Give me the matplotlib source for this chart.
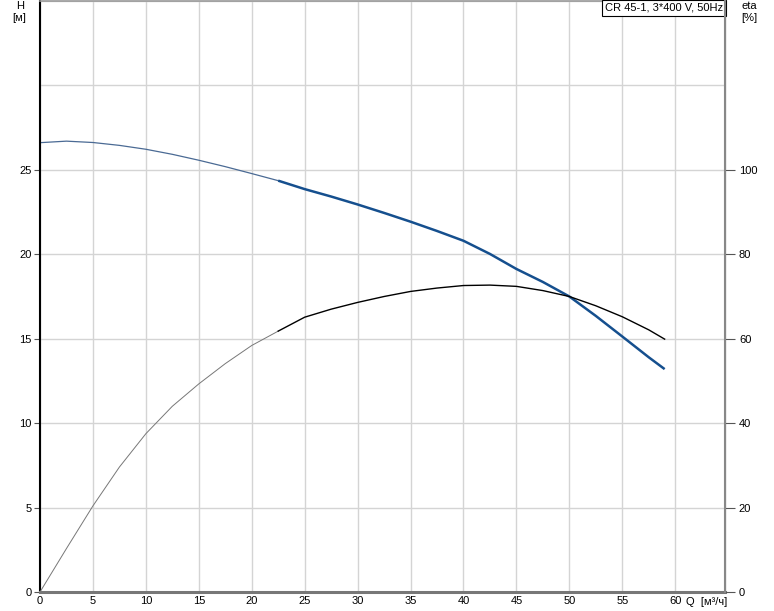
import numpy as np
import matplotlib.pyplot as plt

# values
q = [0, 2.5, 5, 7.5, 10, 12.5, 15, 17.5, 20, 22.5, 25, 27.5, 30, 32.5, 35,
     37.5, 40, 42.5, 45, 47.5, 50, 52.5, 55, 57.5, 59]
head = [26.61, 26.70, 26.62, 26.45, 26.22, 25.92, 25.57, 25.19, 24.78, 24.36,
        23.86, 23.42, 22.95, 22.45, 21.93, 21.38, 20.80, 20.02, 19.13, 18.36,
        17.50, 16.35, 15.13, 13.90, 13.20]
eta = [0, 10.3, 20.4, 29.6, 37.5, 44.0, 49.3, 54.1, 58.4, 61.8, 65.1, 67.0,
       68.6, 70.0, 71.2, 72.0, 72.6, 72.7, 72.4, 71.4, 70.0, 67.8, 65.2, 62.1, 59.9]
q_thick = 22.5  # start of the duty range

x_ticks = [0, 5, 10, 15, 20, 25, 30, 35, 40, 45, 50, 55, 60]
h_ticks = [0, 5, 10, 15, 20, 25]
eta_ticks = [0, 20, 40, 60, 80, 100]
title = "CR 45-1, 3*400 V, 50Hz"

plt.rcParams['font.family'] = ['Liberation Sans', 'DejaVu Sans']
plt.rcParams['font.size'] = 8

fig = plt.figure(figsize=(7.74, 6.11), dpi=100)
ax = fig.add_axes([40 / 774, 19 / 611, 685 / 774, 591 / 611])
ax2 = ax.twinx()

q = np.array(q)
head = np.array(head)
eta = np.array(eta)
thin = q <= q_thick
thick = q >= q_thick

ax.set_xlim(0, 64.7)
ax.set_ylim(0, 35)
ax2.set_ylim(0, 140)

ax.set_xticks(x_ticks + [64.7])
ax.set_yticks(h_ticks + [30, 35])
ax.grid(True, color='#d4d4d4', lw=1)
ax.set_axisbelow(True)
ax.set_xticklabels([str(t) for t in x_ticks] + [''])
ax.set_yticklabels([str(t) for t in h_ticks] + ['', ''])
ax.tick_params(axis='x', length=0, pad=3, colors='black')
ax.tick_params(axis='y', length=4, pad=2, color='#555555')
for t in ax.yaxis.get_major_ticks()[-2:]:
    t.tick1line.set_visible(False)

ax2.set_yticks(eta_ticks)
ax2.tick_params(axis='y', length=7, pad=3, color='#555555')

ax.spines['left'].set_color('black')
ax.spines['left'].set_linewidth(1.5)
ax.spines['bottom'].set_color('#777777')
ax.spines['bottom'].set_linewidth(2.2)
ax.spines['top'].set_color('#999999')
ax.spines['top'].set_linewidth(1.2)
ax2.spines['right'].set_color('#888888')
ax2.spines['right'].set_linewidth(1.5)
for s in ['left', 'bottom', 'top']:
    ax2.spines[s].set_visible(False)

# H curve
ax.plot(q[thin], head[thin], color='#4a6a94', lw=0.9)
ax.plot(q[thick], head[thick], color='#154f8e', lw=1.8, solid_capstyle='butt',
        solid_joinstyle='round')
# efficiency curve
ax2.plot(q[thin], eta[thin], color='#777777', lw=0.7)
ax2.plot(q[thick], eta[thick], color='black', lw=1.0, solid_joinstyle='round')

ax.text(0.997, 0.997, title, transform=ax.transAxes, ha='right', va='top',
        fontsize=8, bbox=dict(facecolor='white', edgecolor='black', lw=0.8, pad=2))

fig.text(20 / 774, 1 - 6 / 611, 'H', ha='center', va='center', fontsize=8)
fig.text(19 / 774, 1 - 18 / 611, '[м]', ha='center', va='center', fontsize=8)
fig.text(749 / 774, 1 - 6 / 611, 'eta', ha='center', va='center', fontsize=8)
fig.text(749 / 774, 1 - 18 / 611, '[%]', ha='center', va='center', fontsize=8)
fig.text(686 / 774, 1 - 602 / 611, 'Q  [м³/ч]', ha='left', va='center', fontsize=8)

fig.savefig('out.png', dpi=100)
